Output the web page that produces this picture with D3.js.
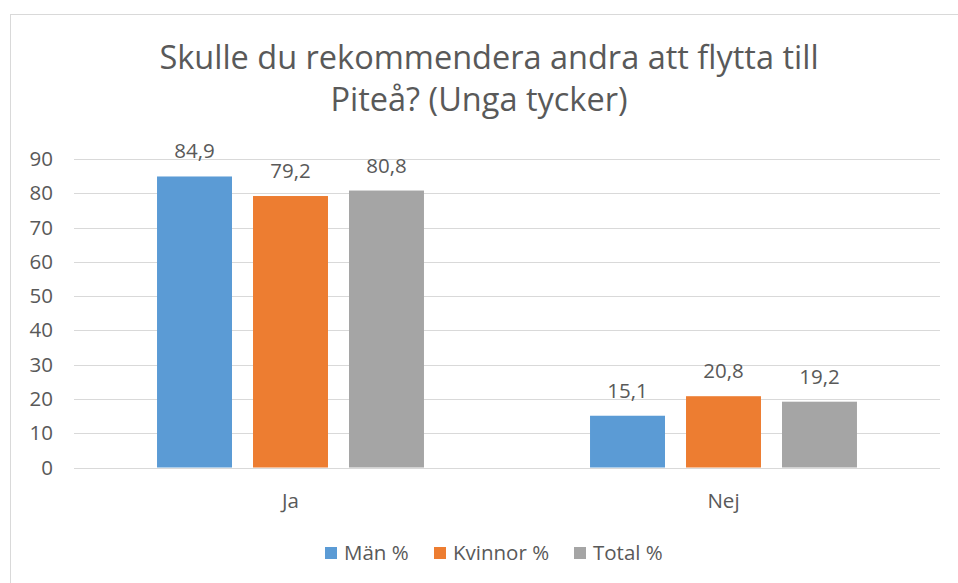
<!DOCTYPE html>
<html>
<head>
<meta charset="utf-8">
<script src="https://cdn.jsdelivr.net/npm/d3@7"></script>
<style>
	body { margin: 0; background: #fff; }
	svg text { font-family: "Open Sans", "Liberation Sans", sans-serif; fill: #595959; }
</style>
</head>
<body>
<div id="chart"></div>
<script>
// Categories on the x axis
const categories = ["Ja", "Nej"];
// Series names (legend)
const seriesNames = ["Män %", "Kvinnor %", "Total %"];
// Values per series, same order as categories
const manValues = [84.9, 15.1];
const kvinnorValues = [79.2, 20.8];
const totalValues = [80.8, 19.2];
// Y axis ticks
const yTicks = [0, 10, 20, 30, 40, 50, 60, 70, 80, 90];

const seriesValues = [manValues, kvinnorValues, totalValues];
const colors = ["#5b9bd5", "#ed7d31", "#a5a5a5"];

const width = 958, height = 583;
const margin = { left: 74, right: 18, top: 159, bottom: 116 };
const fontSize = "20.5px";

const svg = d3.select("#chart").append("svg")
	.attr("width", width)
	.attr("height", height);

// Chart border
svg.append("rect")
	.attr("x", 10.5).attr("y", 14.5)
	.attr("width", 960).attr("height", 600)
	.attr("fill", "none")
	.attr("stroke", "#d9d9d9");

// Scales
const x0 = d3.scaleBand()
	.domain(categories)
	.range([margin.left, width - margin.right]);

const x1 = d3.scaleBand()
	.domain(d3.range(seriesNames.length))
	.range([0, x0.bandwidth()])
	.paddingInner(0.219)
	.paddingOuter(0.865);

const y = d3.scaleLinear()
	.domain([0, 90])
	.range([height - margin.bottom + 0.5, margin.top]);

// Gridlines
svg.append("g")
	.selectAll("line")
	.data(yTicks)
	.enter()
	.append("line")
	.attr("x1", margin.left)
	.attr("x2", width - margin.right)
	.attr("y1", d => Math.round(y(d)) + 0.5)
	.attr("y2", d => Math.round(y(d)) + 0.5)
	.attr("stroke", "#d9d9d9")
	.attr("stroke-width", 1);

// Y axis labels
const yAxis = svg.append("g")
	.attr("transform", `translate(${margin.left - 21},0)`)
	.call(d3.axisLeft(y).tickValues(yTicks).tickSize(0).tickPadding(0));
yAxis.select(".domain").remove();
yAxis.selectAll("text")
	.style("font-size", fontSize)
	.style("font-family", "\"Open Sans\", sans-serif")
	.attr("fill", "#595959");

// Bars
const groups = svg.append("g")
	.selectAll("g")
	.data(categories)
	.enter()
	.append("g")
	.attr("transform", d => `translate(${x0(d)},0)`);

groups.each(function(cat, ci) {
	const g = d3.select(this);
	seriesValues.forEach((vals, si) => {
		g.append("rect")
			.attr("x", x1(si))
			.attr("width", x1.bandwidth())
			.attr("y", y(vals[ci]))
			.attr("height", y(0) - y(vals[ci]))
			.attr("fill", colors[si]);
		g.append("text")
			.attr("x", x1(si) + x1.bandwidth() / 2)
			.attr("y", y(vals[ci]) - 18)
			.attr("text-anchor", "middle")
			.style("font-size", fontSize)
			.text(String(vals[ci]).replace(".", ","));
	});
});

// X axis labels
const xAxis = svg.append("g")
	.attr("transform", `translate(0,${y(0) + 24})`)
	.call(d3.axisBottom(x0).tickSize(0).tickPadding(0));
xAxis.select(".domain").remove();
xAxis.selectAll("text")
	.attr("dy", null)
	.attr("y", 16)
	.style("font-size", fontSize)
	.style("font-family", "\"Open Sans\", sans-serif")
	.attr("fill", "#595959");

// Title
const title = svg.append("text")
	.attr("text-anchor", "middle")
	.style("font-size", "32.5px");
title.append("tspan").attr("x", 489).attr("y", 69).text("Skulle du rekommendera andra att flytta till");
title.append("tspan").attr("x", 479).attr("y", 111).text("Piteå? (Unga tycker)");

// Legend
const legendX = [325, 434, 574];
const legend = svg.append("g")
	.selectAll("g")
	.data(seriesNames)
	.enter()
	.append("g")
	.attr("transform", (d, i) => `translate(${legendX[i]},547)`);
legend.append("rect")
	.attr("width", 12).attr("height", 12)
	.attr("fill", (d, i) => colors[i]);
legend.append("text")
	.attr("x", 19).attr("y", 12.5)
	.style("font-size", fontSize)
	.text(d => d);
</script>
</body>
</html>
